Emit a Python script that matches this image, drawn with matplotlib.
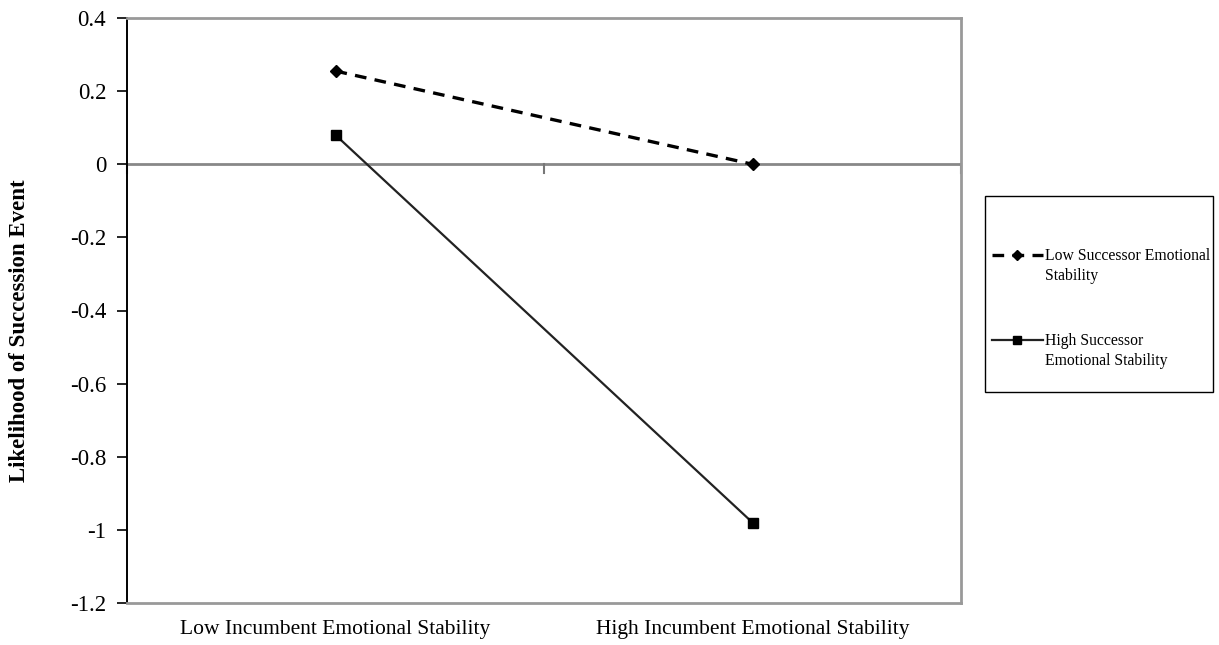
import matplotlib
matplotlib.use("Agg")
import matplotlib.pyplot as plt
from matplotlib.patches import Rectangle
from matplotlib.lines import Line2D

categories = ["Low Incumbent Emotional Stability", "High Incumbent Emotional Stability"]
low_successor = [0.255, 0.0]
high_successor = [0.08, -0.98]
series_labels = ["Low Successor Emotional\nStability", "High Successor\nEmotional Stability"]
y_ticks = [0.4, 0.2, 0, -0.2, -0.4, -0.6, -0.8, -1, -1.2]
y_label = "Likelihood of Succession Event"

plt.rcParams['font.family'] = ['Liberation Serif', 'DejaVu Serif']

fig = plt.figure(figsize=(12.19, 6.45), dpi=100)
W, H = 1219, 645
left, right, top, bottom = 127, 961, 18, 603
ax = fig.add_axes([left / W, 1 - bottom / H, (right - left) / W, (bottom - top) / H])

x = [0.5, 1.5]
low_style = dict(color='black', ls=(0, (3.5, 2.5)), lw=2.4, marker='D', ms=6)
high_style = dict(color='#222222', ls='-', lw=1.6, marker='s', ms=7.5, mfc='black', mec='black')
ax.plot(x, low_successor, zorder=3, **low_style)
ax.plot(x, high_successor, zorder=3, **high_style)

ax.set_xlim(0, 2)
ax.set_ylim(-1.2, 0.4)
ax.set_yticks(y_ticks)
ax.set_yticklabels([f"{v:g}" for v in y_ticks], fontsize=16.5)
ax.tick_params(axis='y', direction='out', length=7, width=1.2, color='black', pad=8)

# x axis drawn at y=0
ax.axhline(0, color='#888888', lw=2, zorder=1)
for xt in [0, 1, 2]:
    ax.plot([xt, xt], [0, -0.025], color='#777777', lw=1.5, zorder=1, clip_on=False)
ax.set_xticks([])
for xi, c in zip(x, categories):
    ax.annotate(c, xy=(xi, 0), xycoords=('data', 'axes fraction'), xytext=(0, -12),
                textcoords='offset points', ha='center', va='top', fontsize=15.5)

ax.spines['left'].set_color('black')
ax.spines['left'].set_linewidth(1.4)
for s in ['top', 'right', 'bottom']:
    ax.spines[s].set_color('#999999')
    ax.spines[s].set_linewidth(2)

fig.text(20 / W, 1 - 331 / H, y_label, rotation=90, ha='center', va='center',
         fontsize=16.5, fontweight='bold')

# legend box (manual, in figure pixels)
lx0, ly0, lx1, ly1 = 985, 196, 1213, 392
fig.patches.append(Rectangle((lx0 / W, 1 - ly1 / H), (lx1 - lx0) / W, (ly1 - ly0) / H,
                             transform=fig.transFigure, fill=False, edgecolor='black', lw=1.0))
entries = [(low_style, series_labels[0], 255), (high_style, series_labels[1], 340)]
for style, lab, yy in entries:
    yf = 1 - yy / H
    st = dict(style)
    fig.lines.append(Line2D([992 / W, 1043 / W], [yf, yf], transform=fig.transFigure,
                            **{k: v for k, v in st.items() if k not in ('marker', 'ms', 'mfc', 'mec')}))
    fig.lines.append(Line2D([1017 / W], [yf], transform=fig.transFigure, ls='none',
                            marker=st['marker'], ms=st['ms'] * 0.85, color='black'))
    fig.text(1045 / W, yf + 7 / H, lab, ha='left', va='top', fontsize=11.3, linespacing=1.35)

fig.savefig("out.png", dpi=100, facecolor='white')
